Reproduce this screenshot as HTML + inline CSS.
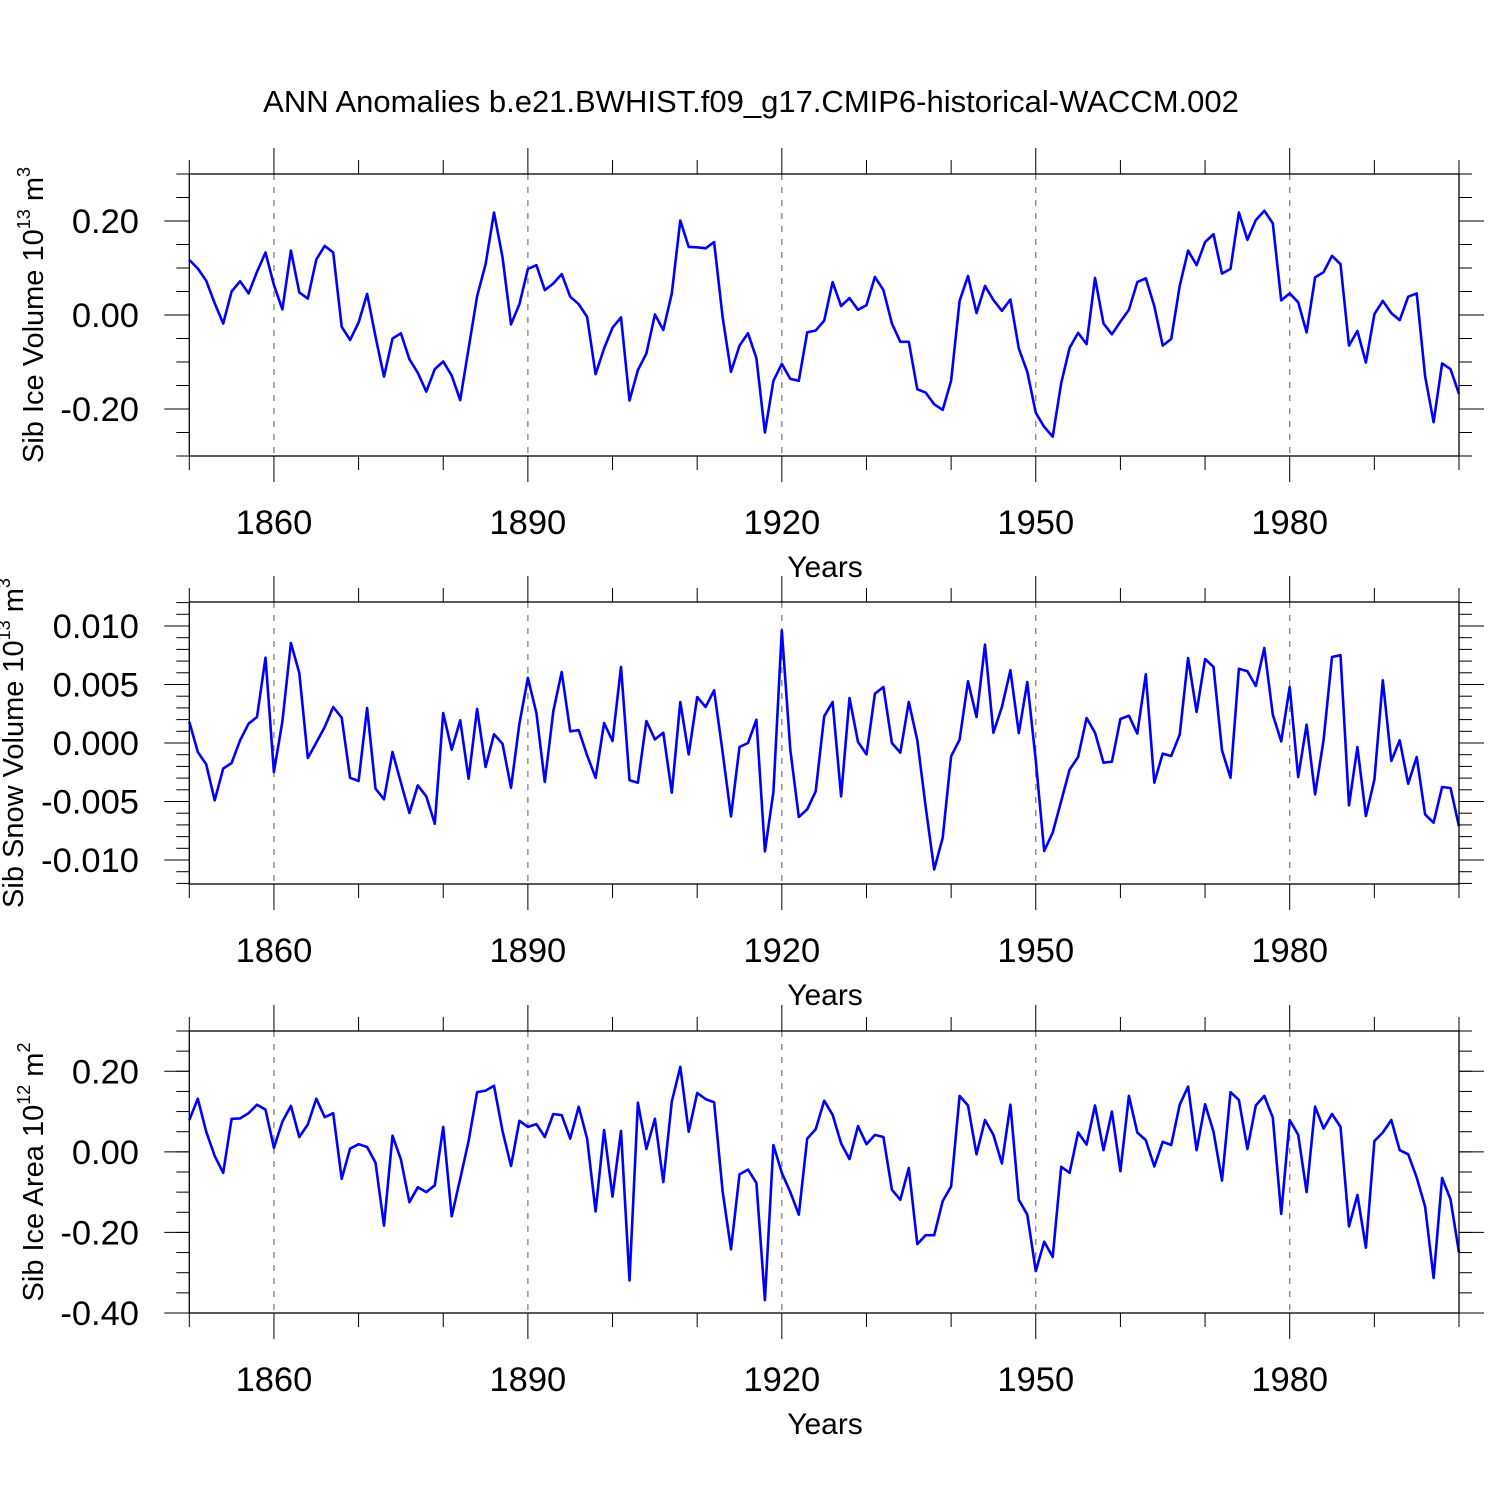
<!DOCTYPE html>
<html><head><meta charset="utf-8">
<style>
html,body{margin:0;padding:0;background:#fff;}
svg{display:block;font-family:"Liberation Sans",Arial,sans-serif;}
</style></head>
<body>
<svg id="chart" width="1500" height="1500" viewBox="0 0 1500 1500" xmlns="http://www.w3.org/2000/svg">
<rect width="1500" height="1500" fill="#fff"/>
<text x="751" y="112" font-size="31" text-anchor="middle">ANN Anomalies b.e21.BWHIST.f09_g17.CMIP6-historical-WACCM.002</text>
</svg>
<script>
const startYear = 1850;
const xTicks = [1860, 1890, 1920, 1950, 1980];
const iceVolume = [0.117,0.099,0.073,0.025,-0.018,0.050,0.072,0.046,0.092,0.133,0.064,0.012,0.137,0.048,0.035,0.118,0.147,0.133,-0.025,-0.053,-0.016,0.045,-0.046,-0.131,-0.050,-0.039,-0.094,-0.123,-0.163,-0.115,-0.099,-0.129,-0.181,-0.071,0.040,0.108,0.218,0.123,-0.020,0.023,0.098,0.106,0.053,0.067,0.087,0.039,0.023,-0.004,-0.126,-0.071,
-0.027,-0.005,-0.182,-0.117,-0.082,0.001,-0.032,0.046,0.201,0.145,0.144,0.142,0.155,-0.004,-0.121,-0.065,-0.039,-0.092,-0.250,-0.140,-0.104,-0.136,-0.140,-0.037,-0.033,-0.012,0.070,0.019,0.036,0.011,0.021,0.081,0.053,-0.018,-0.057,-0.057,-0.158,-0.165,-0.190,-0.202,-0.140,0.030,0.083,0.004,0.062,0.032,0.009,0.033,-0.071,-0.121,
-0.208,-0.238,-0.259,-0.145,-0.070,-0.038,-0.062,0.079,-0.018,-0.041,-0.014,0.011,0.070,0.078,0.019,-0.065,-0.051,0.062,0.137,0.106,0.155,0.172,0.088,0.098,0.218,0.160,0.202,0.222,0.195,0.031,0.046,0.027,-0.037,0.080,0.091,0.126,0.108,-0.065,-0.034,-0.101,0.002,0.030,0.004,-0.011,0.039,0.046,-0.130,-0.228,-0.103,-0.115,-0.168];
const snowVolume = [1.8,-0.77,-1.82,-4.90,-2.19,-1.71,0.23,1.65,2.22,7.29,-2.48,1.85,8.55,5.98,-1.28,0.03,1.37,3.08,2.16,-2.97,-3.25,2.99,-3.9,-4.81,-0.77,-3.39,-5.98,-3.62,-4.56,-6.9,2.56,-0.57,1.94,-3.05,2.91,-2.05,0.74,-0.06,-3.82,1.65,5.56,2.56,-3.33,2.71,6.07,1.0,1.09,-1.05,-2.97,1.71,
0.17,6.5,-3.19,-3.39,1.88,0.31,0.88,-4.25,3.5,-0.97,3.93,3.08,4.5,-0.77,-6.27,-0.34,0,1.99,-9.26,-4.19,9.63,-0.57,-6.32,-5.67,-4.13,2.28,3.5,-4.56,3.85,0.09,-0.97,4.21,4.79,0,-0.83,3.5,0.23,-5.47,-10.8,-8.09,-1.14,0.28,5.27,2.22,8.4,0.88,3.08,6.21,0.85,5.21,
-1.5,-9.23,-7.66,-4.96,-2.28,-1.2,2.14,0.88,-1.68,-1.6,2.05,2.33,0.8,5.87,-3.39,-0.91,-1.11,0.71,7.26,2.65,7.18,6.5,-0.63,-2.97,6.35,6.13,4.87,8.12,2.42,0.14,4.79,-2.91,1.56,-4.39,0.28,7.35,7.5,-5.33,-0.34,-6.24,-3.13,5.36,-1.54,0.23,-3.48,-1.2,-6.1,-6.81,-3.76,-3.85,-7.12].map(v => v / 1000);
const iceArea = [0.079,0.132,0.050,-0.010,-0.052,0.082,0.083,0.096,0.117,0.105,0.010,0.075,0.114,0.037,0.068,0.132,0.086,0.096,-0.067,0.008,0.019,0.012,-0.027,-0.183,0.040,-0.019,-0.125,-0.088,-0.100,-0.083,0.062,-0.160,-0.067,0.027,0.148,0.152,0.164,0.052,-0.035,0.077,0.062,0.069,0.037,0.094,0.091,0.033,0.112,0.033,-0.148,0.054,
-0.111,0.052,-0.319,0.122,0.007,0.082,-0.075,0.125,0.211,0.050,0.146,0.131,0.123,-0.098,-0.242,-0.056,-0.044,-0.077,-0.368,0.017,-0.052,-0.100,-0.156,0.033,0.056,0.127,0.092,0.021,-0.018,0.064,0.019,0.042,0.037,-0.094,-0.119,-0.040,-0.229,-0.207,-0.207,-0.122,-0.086,0.139,0.115,-0.006,0.079,0.042,-0.029,0.117,-0.119,-0.156,
-0.296,-0.223,-0.261,-0.037,-0.052,0.048,0.018,0.115,0.004,0.100,-0.048,0.139,0.048,0.029,-0.036,0.025,0.017,0.117,0.162,0.004,0.118,0.050,-0.071,0.148,0.129,0.007,0.115,0.139,0.085,-0.154,0.079,0.042,-0.100,0.112,0.058,0.094,0.062,-0.185,-0.107,-0.238,0.027,0.048,0.079,0.004,-0.006,-0.064,-0.136,-0.313,-0.065,-0.118,-0.250];
const iceVolTicks = [0.2, 0, -0.2];
const iceVolTickLabels = ["0.20","0.00","-0.20"];
const snowTicks = [0.01, 0.005, 0, -0.005, -0.01];
const snowTickLabels = ["0.010","0.005","0.000","-0.005","-0.010"];
const areaTicks = [0.2, 0, -0.2, -0.4];
const areaTickLabels = ["0.20","0.00","-0.20","-0.40"];

const NS = "http://www.w3.org/2000/svg";
const svg = document.getElementById('chart');
function mk(tag, attrs, parent) {
  const e = document.createElementNS(NS, tag);
  for (const k in attrs) e.setAttribute(k, attrs[k]);
  (parent || svg).appendChild(e);
  return e;
}
const X0 = 189.3, X1 = 1459, YEAR_END = 2000;
const xs = y => X0 + (y - startYear) * (X1 - X0) / (YEAR_END - startYear);

function panel(name, top, ymin, ymax, values, ticks, labels, minorStep, titleParts, titleX) {
  const bot = top + 282;
  const ys = v => bot - (v - ymin) * (bot - top) / (ymax - ymin);
  const g = mk('g', {});
  
  
  xTicks.forEach(t => {
    const l = mk('line', {x1: xs(t), x2: xs(t), y1: top, y2: bot, stroke: '#777', 'stroke-width': 1.2, 'stroke-dasharray': '6,7'}, g);
    
    
  });
  for (let yr = 1850; yr <= 2000; yr += 10) {
    const major = xTicks.includes(yr);
    const len = major ? 26 : 14;
    mk('line', {x1: xs(yr), x2: xs(yr), y1: top, y2: top - len, stroke: '#000', 'stroke-width': 1}, g);
    mk('line', {x1: xs(yr), x2: xs(yr), y1: bot, y2: bot + len, stroke: '#000', 'stroke-width': 1}, g);
  }
  const n0 = Math.ceil(ymin / minorStep - 1e-6), n1 = Math.floor(ymax / minorStep + 1e-6);
  for (let i = n0; i <= n1; i++) {
    const y = ys(i * minorStep);
    mk('line', {x1: X0, x2: X0 - 13, y1: y, y2: y, stroke: '#000', 'stroke-width': 1}, g);
    mk('line', {x1: X1, x2: X1 + 13, y1: y, y2: y, stroke: '#000', 'stroke-width': 1}, g);
  }
  ticks.forEach((t, i) => {
    const y = ys(t);
    mk('line', {x1: X0, x2: X0 - 25, y1: y, y2: y, stroke: '#000', 'stroke-width': 1}, g);
    mk('line', {x1: X1, x2: X1 + 25, y1: y, y2: y, stroke: '#000', 'stroke-width': 1}, g);
    const tx = mk('text', {x: 139, y: y + 12, 'font-size': 34.5, 'text-anchor': 'end'}, g);
    tx.textContent = labels[i];
    
    
  });
  xTicks.forEach(t => {
    const tx = mk('text', {x: xs(t), y: bot + 78, 'font-size': 34.5, 'text-anchor': 'middle'}, g);
    tx.textContent = t;
    
    
  });
  const xt = mk('text', {x: 825, y: bot + 121, 'font-size': 30, 'text-anchor': 'middle'}, g);
  xt.textContent = 'Years';
  
  
  const cy = (top + bot) / 2;
  const yt = mk('text', {x: 0, y: 0, 'font-size': 29, 'text-anchor': 'middle', transform: `translate(${titleX},${cy}) rotate(-90)`}, g);
  
  
  const s1 = mk('tspan', {}, yt); s1.textContent = titleParts[0] + ' 10';
  const s2 = mk('tspan', {dy: -13, 'font-size': 18}, yt); s2.textContent = titleParts[1];
  const s3 = mk('tspan', {dy: 13}, yt); s3.textContent = ' m';
  const s4 = mk('tspan', {dy: -13, 'font-size': 18}, yt); s4.textContent = titleParts[2];
  const pts = values.map((v, i) => xs(startYear + i).toFixed(1) + ',' + ys(v).toFixed(1)).join(' ');
  const pl = mk('polyline', {points: pts, fill: 'none', stroke: '#0000ff', 'stroke-width': 2.6, 'stroke-linejoin': 'round'}, g);
  
  
  const fr = mk('rect', {x: X0, y: top, width: X1 - X0, height: bot - top, fill: 'none', stroke: '#000', 'stroke-width': 1.3}, g);
  
  
}
panel('ice-volume', 174, -0.3, 0.3, iceVolume, iceVolTicks, iceVolTickLabels, 0.05, ['Sib Ice Volume', '13', '3'], 43);
panel('snow-volume', 602, -0.01205, 0.01205, snowVolume, snowTicks, snowTickLabels, 0.001, ['Sib Snow Volume', '13', '3'], 23);
panel('ice-area', 1031, -0.4, 0.3, iceArea, areaTicks, areaTickLabels, 0.05, ['Sib Ice Area', '12', '2'], 43);
</script>
</body></html>
